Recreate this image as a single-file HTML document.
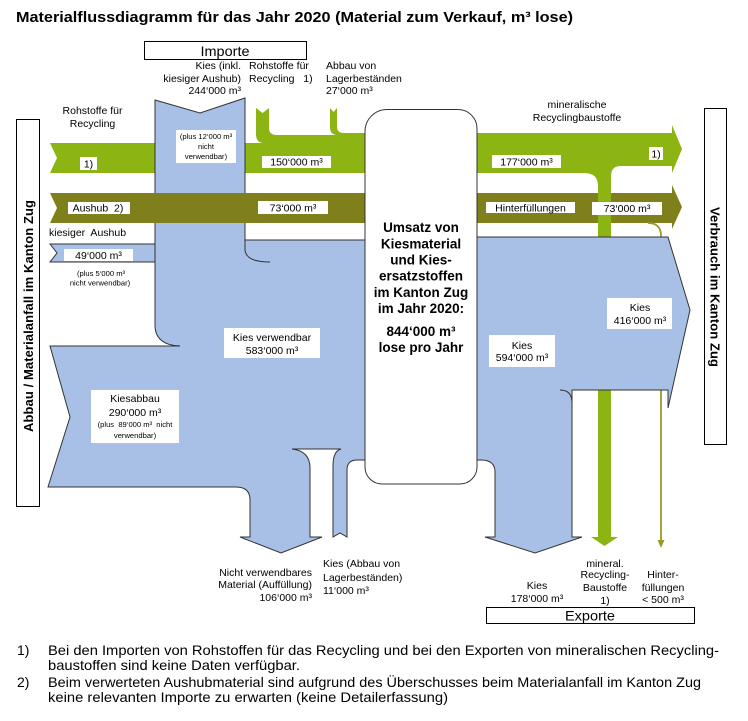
<!DOCTYPE html>
<html><head><meta charset="utf-8"><style>
html,body{margin:0;padding:0;background:#fff;}
svg{display:block;}
text{font-family:"Liberation Sans",Arial,sans-serif;fill:#000;white-space:pre;}
.s{font-size:10.5px;}
.xs{font-size:7.6px;}
.b{font-weight:bold;}
</style></head><body>
<svg width="748" height="721" viewBox="0 0 748 721" xmlns="http://www.w3.org/2000/svg" xml:space="preserve">
<rect width="748" height="721" fill="#fff"/>

<!-- Title -->
<text x="16" y="22" class="b" font-size="14.5" textLength="557" lengthAdjust="spacingAndGlyphs">Materialflussdiagramm für das Jahr 2020 (Material zum Verkauf, m³ lose)</text>

<!-- side boxes -->
<rect x="16.5" y="119.5" width="23" height="387" fill="#fff" stroke="#000" stroke-width="1"/>
<rect x="704.5" y="108.5" width="22" height="336" fill="#fff" stroke="#000" stroke-width="1"/>
<text transform="translate(33,316) rotate(-90)" text-anchor="middle" class="b" font-size="13" textLength="232" lengthAdjust="spacing">Abbau / Materialanfall im Kanton Zug</text>
<text transform="translate(710.5,287) rotate(90)" text-anchor="middle" class="b" font-size="13" textLength="160" lengthAdjust="spacing">Verbrauch im Kanton Zug</text>

<!-- Importe box -->
<rect x="144.5" y="41.5" width="162" height="18" fill="#fff" stroke="#000" stroke-width="1"/>
<text x="225" y="56" text-anchor="middle" font-size="14" textLength="49" lengthAdjust="spacingAndGlyphs">Importe</text>

<!-- green left band -->
<path d="M50 143 L156 143 L156 173 L50 173 L57 158 Z" fill="#8cb412"/>
<!-- green mid band with stubs -->
<path d="M245 143 L264 143 Q256 143 256 134 L256 108 L262.5 113 L269 108 L269 128 Q269 135 277 135 L336 135 Q330 134 330 127 L330 108 L333.5 112 L337 108 L337 127 Q337 133 344 133 L368 133 L368 173 L245 173 Z" fill="#8cb412"/>

<!-- blue kiesiger Aushub band -->
<path d="M50 244 L160 244 L160 262 L50 262 L57 253 Z" fill="#a8c0e6" stroke="#333" stroke-width="1"/>
<!-- blue left main -->
<path d="M155 100 L200 113 L245 98 L245 240 L380 240 L380 460 L357 460 Q347 460 347 470 L347 537 L340 533 L333 537 L333 466 Q333 451 341 449 L292 449 Q310 451 310 468 L310 537 L322 537 L281 553 L240 537 L250 537 L250 500 Q250 487 236 487 L48 487 L70 417 L50 346 L180 346 Q155 345 155 325 Z" fill="#a8c0e6" stroke="#333" stroke-width="1"/>
<path d="M245 240 L245 250 Q246 262 270 262" fill="none" stroke="#333" stroke-width="1"/>

<!-- olive band -->
<path d="M50 193 L672 193 L672 185 L682 207 L672 229 L672 223 L50 223 L57 208 Z" fill="#7f7f1c"/>

<!-- green right band + export column -->
<path d="M470 133 L672 133 L672 125 L682 149 L672 173 L672 166 L621 166 Q611 166 611 176 L611 537 L618 537 L604.5 546 L591 537 L598 537 L598 186 Q598 173 584 173 L470 173 Z" fill="#8cb412"/>

<!-- thin olive line -->
<path d="M648 223 Q661 223 661 236 L661 541" fill="none" stroke="#9a9a2a" stroke-width="1.8"/>
<path d="M657.5 540 L664.5 540 L661 548 Z" fill="#9a9a2a"/>

<!-- blue right -->
<path d="M370 237 L668 237 L690 310 L668 408 L668 390 L572 390 L572 537 L582 537 L535 553 L485 537 L495 537 L495 472 Q495 460 481 460 L370 460 Z" fill="#a8c0e6" stroke="#333" stroke-width="1"/>
<path d="M560 390 Q572 390 572 403" fill="none" stroke="#333" stroke-width="1"/>

<!-- central box -->
<path d="M387 109.5 L458 109.5 A19 19 0 0 1 477 128.5 L477 467 A17 17 0 0 1 460 484 L382 484 A17 17 0 0 1 365 467 L365 131.5 A22 22 0 0 1 387 109.5 Z" fill="#fff" stroke="#333" stroke-width="1"/>
<g class="b" font-size="13.5" text-anchor="middle">
<text x="421" y="232">Umsatz von</text>
<text x="421" y="248.5">Kiesmaterial</text>
<text x="421" y="264.5">und Kies-</text>
<text x="421" y="280.5">ersatzstoffen</text>
<text x="421" y="297">im Kanton Zug</text>
<text x="421" y="313">im Jahr 2020:</text>
<text x="421" y="336">844‘000 m³</text>
<text x="421" y="352">lose pro Jahr</text>
</g>

<!-- label boxes -->
<g fill="#fff">
<rect x="80" y="157" width="17" height="13"/>
<rect x="262" y="156" width="69" height="12"/>
<rect x="492" y="155" width="69" height="13"/>
<rect x="649" y="147" width="14" height="13"/>
<rect x="68" y="202" width="62" height="12"/>
<rect x="258" y="201" width="70" height="13"/>
<rect x="486" y="202" width="89" height="11"/>
<rect x="592" y="202" width="70" height="13"/>
<rect x="64" y="249" width="69" height="12"/>
<rect x="176" y="130" width="60" height="33"/>
<rect x="224" y="328" width="96" height="30"/>
<rect x="91" y="390" width="88" height="53"/>
<rect x="489" y="335" width="66" height="32"/>
<rect x="607" y="298" width="65" height="31"/>
</g>

<g class="s" text-anchor="middle">
<text x="88.5" y="167.5">1)</text>
<text x="296.5" y="165.5">150‘000 m³</text>
<text x="526.5" y="165.5">177‘000 m³</text>
<text x="656" y="157.5">1)</text>
<text x="98" y="211.5">Aushub  2)</text>
<text x="293" y="211.5">73‘000 m³</text>
<text x="530.5" y="211.5">Hinterfüllungen</text>
<text x="627" y="212">73‘000 m³</text>
<text x="98.5" y="259">49‘000 m³</text>
<text x="272" y="341">Kies verwendbar</text>
<text x="272" y="354">583‘000 m³</text>
<text x="135" y="402">Kiesabbau</text>
<text x="135" y="416">290‘000 m³</text>
<text x="522" y="349">Kies</text>
<text x="522" y="361">594‘000 m³</text>
<text x="640" y="311">Kies</text>
<text x="640" y="324">416‘000 m³</text>
<text x="92.5" y="114">Rohstoffe für</text>
<text x="92.5" y="127">Recycling</text>
<text x="577" y="108">mineralische</text>
<text x="577" y="121">Recyclingbaustoffe</text>
<text x="537" y="589">Kies</text>
<text x="537" y="602">178‘000 m³</text>
<text x="605" y="567">mineral.</text>
<text x="605" y="578">Recycling-</text>
<text x="605" y="591">Baustoffe</text>
<text x="605" y="604">1)</text>
<text x="663" y="578">Hinter-</text>
<text x="663" y="591">füllungen</text>
<text x="663" y="603">&lt; 500 m³</text>
</g>
<g class="xs" text-anchor="middle">
<text x="206" y="139">(plus 12‘000 m³</text>
<text x="206" y="149">nicht</text>
<text x="206" y="159">verwendbar)</text>
<text x="101" y="276">(plus 5‘000 m³</text>
<text x="100" y="285.5">nicht verwendbar)</text>
<text x="135" y="427">(plus  89‘000 m³  nicht</text>
<text x="135" y="438">verwendbar)</text>
</g>

<g class="s">
<text x="241" y="69" text-anchor="end">Kies (inkl.</text>
<text x="241" y="82" text-anchor="end">kiesiger Aushub)</text>
<text x="241" y="94" text-anchor="end">244‘000 m³</text>
<text x="249" y="69">Rohstoffe für</text>
<text x="249" y="82">Recycling   1)</text>
<text x="326" y="69">Abbau von</text>
<text x="326" y="82">Lagerbeständen</text>
<text x="326" y="94">27‘000 m³</text>
<text x="49" y="236">kiesiger  Aushub</text>
<text x="312" y="576" text-anchor="end">Nicht verwendbares</text>
<text x="312" y="588" text-anchor="end">Material (Auffüllung)</text>
<text x="312" y="601" text-anchor="end">106‘000 m³</text>
<text x="323" y="567">Kies (Abbau von</text>
<text x="323" y="581">Lagerbeständen)</text>
<text x="323" y="594">11‘000 m³</text>
</g>

<!-- Exporte box -->
<rect x="486.5" y="607.5" width="208" height="16" fill="#fff" stroke="#000" stroke-width="1"/>
<text x="590" y="620.5" text-anchor="middle" font-size="14" textLength="50" lengthAdjust="spacingAndGlyphs">Exporte</text>

<!-- footnotes -->
<g font-size="14">
<text x="17" y="655">1)</text>
<text x="48" y="655" textLength="671" lengthAdjust="spacingAndGlyphs">Bei den Importen von Rohstoffen für das Recycling und bei den Exporten von mineralischen Recycling-</text>
<text x="48" y="670" textLength="252" lengthAdjust="spacingAndGlyphs">baustoffen sind keine Daten verfügbar.</text>
<text x="17" y="687">2)</text>
<text x="48" y="687" textLength="653" lengthAdjust="spacingAndGlyphs">Beim verwerteten Aushubmaterial sind aufgrund des Überschusses beim Materialanfall im Kanton Zug</text>
<text x="48" y="702" textLength="400" lengthAdjust="spacingAndGlyphs">keine relevanten Importe zu erwarten (keine Detailerfassung)</text>
</g>
</svg>
</body></html>
